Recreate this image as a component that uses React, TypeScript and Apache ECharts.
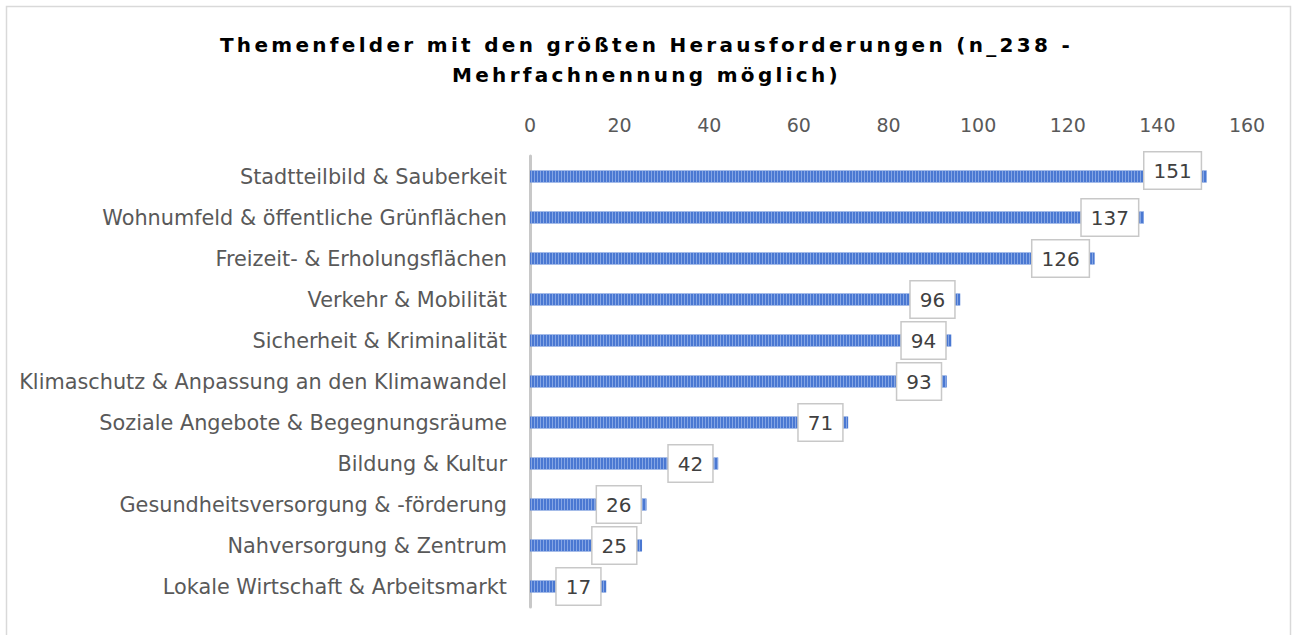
import React, { useEffect, useRef } from "react";
import * as echarts from "echarts";

const categories = [
  "Stadtteilbild & Sauberkeit",
  "Wohnumfeld & öffentliche Grünflächen",
  "Freizeit- & Erholungsflächen",
  "Verkehr & Mobilität",
  "Sicherheit & Kriminalität",
  "Klimaschutz & Anpassung an den Klimawandel",
  "Soziale Angebote & Begegnungsräume",
  "Bildung & Kultur",
  "Gesundheitsversorgung & -förderung",
  "Nahversorgung & Zentrum",
  "Lokale Wirtschaft & Arbeitsmarkt",
];
const values = [151, 137, 126, 96, 94, 93, 71, 42, 26, 25, 17];
const titleText = "Themenfelder mit den größten Herausforderungen (n_238 -\nMehrfachnennung möglich)";

export default function App() {
  const ref = useRef<HTMLDivElement>(null);
  useEffect(() => {
    document.body.style.margin = "0";
    const el = ref.current!;
    const chart = echarts.init(el, null, { renderer: "svg" });
    const font = "'DejaVu Sans', sans-serif";
    chart.setOption({
      animation: false,
      backgroundColor: "#ffffff",
      title: {
        text: titleText,
        left: "center",
        top: 25,
        textStyle: {
          fontFamily: "'DejaVu Sans', sans-serif",
          fontWeight: "bold",
          fontSize: 20,
          lineHeight: 30,
          color: "#000000",
        },
      },
      graphic: [
        {
          type: "rect",
          shape: { x: 6.5, y: 6.5, width: 1284, height: 660 },
          style: { fill: "none", stroke: "#d9d9d9", lineWidth: 1.5 },
          silent: true,
        },
      ],
      grid: { left: 530, right: 46, top: 156, height: 451, containLabel: false },
      xAxis: {
        type: "value",
        position: "top",
        min: 0,
        max: 160,
        interval: 20,
        axisLine: { show: false },
        axisTick: { show: false },
        splitLine: { show: false },
        axisLabel: {
          margin: 22,
          fontFamily: font,
          fontSize: 19,
          color: "#595959",
        },
      },
      yAxis: {
        type: "category",
        inverse: true,
        data: categories,
        axisLine: { show: true, lineStyle: { color: "#c8c8c8", width: 3 } },
        axisTick: { show: false },
        axisLabel: {
          margin: 23,
          fontFamily: font,
          fontSize: 20.8,
          color: "#595959",
        },
      },
      series: [
        {
          type: "bar",
          barWidth: 12,
          data: values.map((v, i) =>
            i === 0 ? { value: v, label: { offset: [0, -6] } } : v
          ),
          itemStyle: {
            color: "#4a78d2",
            decal: {
              symbol: "rect",
              symbolSize: 1,
              dashArrayX: [1, 2],
              dashArrayY: [12, 0],
              color: "rgba(170,195,240,0.6)",
              rotation: 0,
            },
          },
          label: {
            show: true,
            position: "insideRight",
            distance: 6,
            fontFamily: font,
            fontSize: 20,
            color: "#404040",
            backgroundColor: "#ffffff",
            borderColor: "#c8c8c8",
            borderWidth: 1.5,
            padding: [8, 9],
          },
        },
      ],
    });
    el.querySelectorAll("text").forEach((t) => {
      const s = t.textContent || "";
      if (s.includes("Themenfelder") || s.includes("Mehrfachnennung")) {
        t.setAttribute("letter-spacing", "3.3px");
      }
    });
    return () => chart.dispose();
  }, []);
  return <div ref={ref} style={{ width: 1293, height: 635 }} />;
}
